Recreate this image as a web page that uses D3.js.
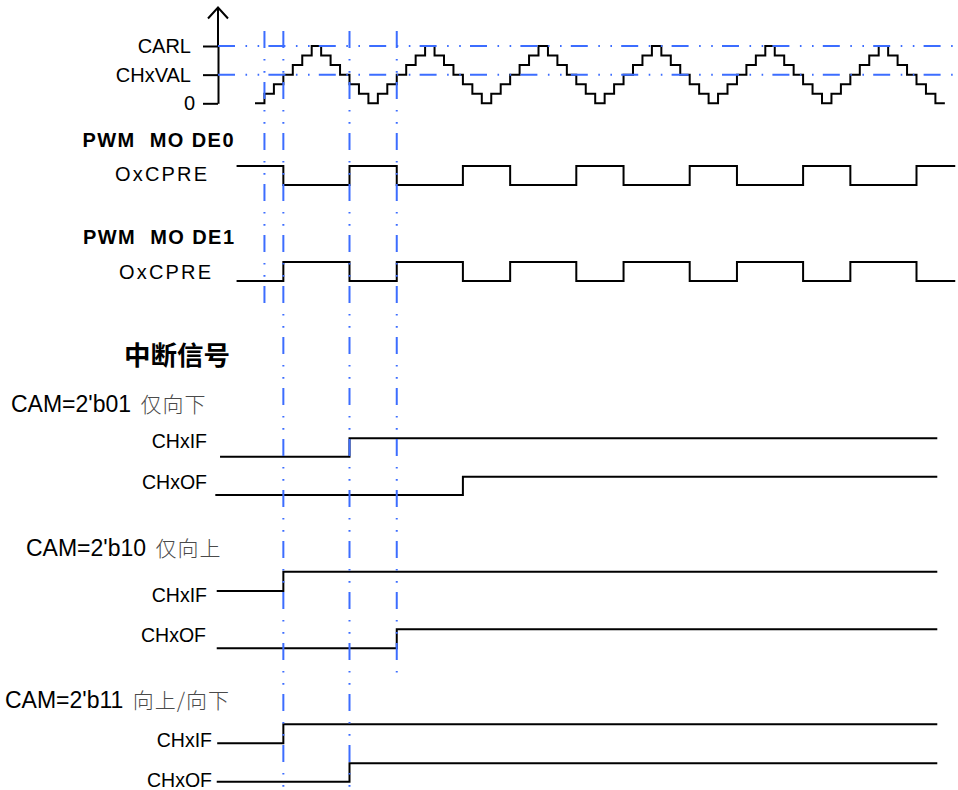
<!DOCTYPE html>
<meta charset="utf-8">
<style>
body { margin: 0; background: #fff; }
svg text { font-family: "Liberation Sans", Arial, sans-serif; fill: #000; }
.cjk { font-family: "Noto Sans CJK SC", sans-serif; }
.axis .domain { stroke-width: 2px; }
.axis .tick line { stroke-width: 2px; }
</style>
<svg width="958" height="790"></svg>
<script src="https://d3js.org/d3.v7.min.js"></script>
<script>

// counter value for every clock step (0 .. CARL, centre-aligned count)
var counter = [0,1,2,3,4,5,6,5,4,3,2,1,
               0,1,2,3,4,5,6,5,4,3,2,1,
               0,1,2,3,4,5,6,5,4,3,2,1,
               0,1,2,3,4,5,6,5,4,3,2,1,
               0,1,2,3,4,5,6,5,4,3,2,1,
               0,1,2,3,4,5,6,5,4,3,2,1,
               0];
var levelTicks = [0, 3, 6];
var levelLabels = ["0", "CHxVAL", "CARL"];

// output compare waveforms (time in clock steps, level 1 = high)
var pwmTimes   = [-1.95, 3, 10, 15, 22, 27, 34, 39, 46, 51, 58, 63, 70, 74.1];
var pwm0Levels = [1, 0, 1, 0, 1, 0, 1, 0, 1, 0, 1, 0, 1, 1];
var pwm1Levels = [0, 1, 0, 1, 0, 1, 0, 1, 0, 1, 0, 1, 0, 0];

// compare match instants (blue markers)
var markerTimes = [1, 3, 10, 15];

// interrupt flags for each CAM mode
var camLabels = ["CAM=2'b01 ", "CAM=2'b10 ", "CAM=2'b11 "];
var camNotes  = ["仅向下", "仅向上", "向上/向下"];
var ifStart = [-3.7, -4.05, -4.0];
var ofStart = [-4.2, -4.05, -4.05];
var ifRise  = [10, 3, 3];
var ofRise  = [22, 15, 10];
var flagEnd = 72.2;

var svg = d3.select("svg");
var blue = "#3c6dff";

var x = d3.scaleLinear().domain([0, 73]).range([255, 944.85]);
var y = d3.scaleLinear().domain([0, 6]).range([103.3, 46]);

var step = d3.line().curve(d3.curveStepAfter);

function trace(times, levels, yHigh, yLow) {
  var pts = times.map(function(t, i) { return [x(t), levels[i] ? yHigh : yLow]; });
  svg.append("path")
      .attr("d", step(pts))
      .attr("fill", "none")
      .attr("stroke", "#000")
      .attr("stroke-width", 2);
}

// ---- counter axis
var axis = svg.append("g")
    .attr("class", "axis")
    .attr("transform", "translate(218,0)")
    .call(d3.axisLeft(y)
        .tickValues(levelTicks)
        .tickFormat(function(d, i) { return levelLabels[i]; })
        .tickSize(15)
        .tickPadding(12)
        .tickSizeOuter(0));
axis.selectAll("text").style("font-size", "20px").attr("fill", "#000");
axis.selectAll(".tick").filter(function(d) { return d === 0; })
    .select("text").attr("x", -23);
axis.selectAll("line, path").attr("stroke", "#000");

svg.append("line")
    .attr("x1", 218).attr("x2", 218).attr("y1", 46).attr("y2", 7.5)
    .attr("stroke", "#000").attr("stroke-width", 2);
svg.append("polyline")
    .attr("points", "208,18.5 218,7.5 228,18.5")
    .attr("fill", "none").attr("stroke", "#000").attr("stroke-width", 2);

// counter staircase
var cPts = counter.map(function(v, i) { return [x(i), y(v)]; });
cPts.push([x(counter.length), y(counter[counter.length - 1])]);
svg.append("path")
    .attr("d", step(cPts))
    .attr("fill", "none")
    .attr("stroke", "#000")
    .attr("stroke-width", 2);

// ---- PWM modes
function boldTitle(txt, x0, yb) {
  svg.append("text")
      .attr("x", x0).attr("y", yb)
      .attr("textLength", 151)
      .attr("lengthAdjust", "spacing")
      .style("font-size", "20px")
      .style("font-weight", "bold")
      .style("white-space", "pre")
      .text(txt);
}
function rightLabel(txt, xr, yb, w) {
  var t = svg.append("text")
      .attr("x", xr).attr("y", yb)
      .attr("text-anchor", "end")
      .style("font-size", "19.5px")
      .text(txt);
  if (w) t.attr("textLength", w).attr("lengthAdjust", "spacing").style("font-size", "20px");
}

boldTitle("PWM  MO DE0", 82.5, 147);
rightLabel("OxCPRE", 207, 181, 92);
trace(pwmTimes, pwm0Levels, 166, 185);

boldTitle("PWM  MO DE1", 83, 243.5);
rightLabel("OxCPRE", 211, 278.5, 92);
trace(pwmTimes, pwm1Levels, 262, 281);

// ---- interrupt section
svg.append("text")
    .attr("class", "cjk")
    .attr("x", 124).attr("y", 365)
    .style("font-size", "26.5px")
    .style("font-weight", "bold")
    .text("中断信号");

var camLayout = [
  { ly: 412, lx: 11,  ifY: [438.3, 456.7], ofY: [476.7, 495],   ifB: 448.3, ofB: 489.3, lr: [207, 207] },
  { ly: 556, lx: 26,  ifY: [571.7, 591],   ofY: [629.3, 648.3], ifB: 601.7, ofB: 641.7, lr: [207, 206] },
  { ly: 708, lx: 5,   ifY: [724.3, 743.3], ofY: [763.3, 781.7], ifB: 746.7, ofB: 786.7, lr: [212, 212] }
];

camLabels.forEach(function(lab, i) {
  var L = camLayout[i];
  var t = svg.append("text")
      .attr("x", L.lx).attr("y", L.ly)
      .style("font-size", "23px")
      .style("white-space", "pre");
  t.append("tspan").text(lab);
  t.append("tspan").attr("class", "cjk").attr("fill", "#4a4a4a")
      .attr("dx", 3)
      .style("font-size", "21px")
      .style("letter-spacing", "1px")
      .style("font-weight", "300").text(camNotes[i]);

  rightLabel("CHxIF", L.lr[0], L.ifB);
  rightLabel("CHxOF", L.lr[1], L.ofB);
  trace([ifStart[i], ifRise[i], flagEnd], [0, 1, 1], L.ifY[0], L.ifY[1]);
  trace([ofStart[i], ofRise[i], flagEnd], [0, 1, 1], L.ofY[0], L.ofY[1]);
});

// ---- blue reference lines (drawn on top)
[6, 3].forEach(function(v) {
  svg.append("line")
      .attr("x1", 218).attr("x2", 958)
      .attr("y1", y(v)).attr("y2", y(v))
      .attr("stroke", blue).attr("stroke-width", 2)
      .attr("stroke-dasharray", "17,10.5,1.6,10.5,1.6,9.2");
});

var markerEnd = [304, 790, 790, 675];
markerTimes.forEach(function(t, i) {
  svg.append("line")
      .attr("x1", x(t)).attr("x2", x(t))
      .attr("y1", 31).attr("y2", markerEnd[i])
      .attr("stroke", blue).attr("stroke-width", 2)
      .attr("stroke-dasharray", "17,11,1.6,10.5,1.6,9.3");
});

</script>
